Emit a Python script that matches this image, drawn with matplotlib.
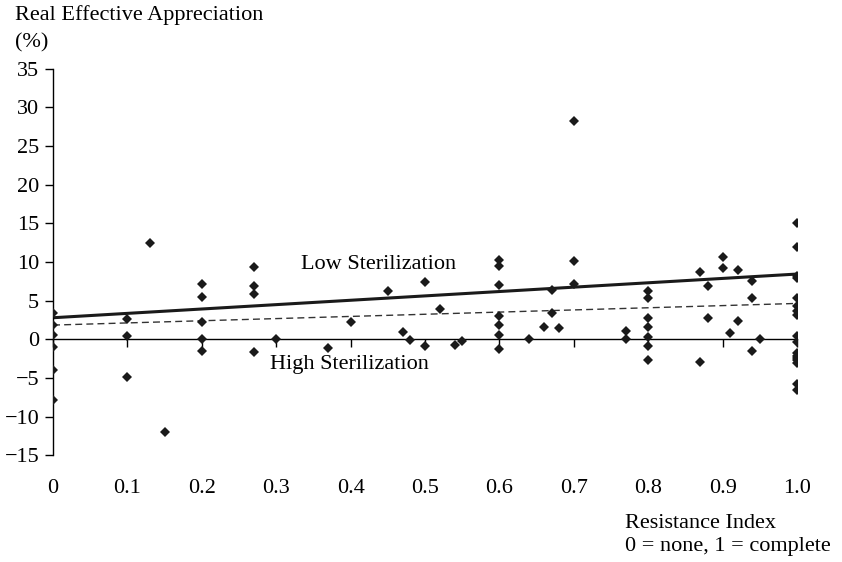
import matplotlib
matplotlib.use("Agg")
import matplotlib.pyplot as plt
import numpy as np

plt.rcParams['font.family'] = ['Liberation Serif', 'DejaVu Serif']

# resistance index and real effective appreciation (%)
resistance = [
    0, 0, 0, 0, 0, 0,
    0.1, 0.1, 0.1,
    0.13, 0.15,
    0.2, 0.2, 0.2, 0.2, 0.2,
    0.27, 0.27, 0.27, 0.27,
    0.3, 0.37, 0.4, 0.45, 0.47, 0.48, 0.5, 0.5, 0.52, 0.54, 0.55,
    0.6, 0.6, 0.6, 0.6, 0.6, 0.6, 0.6,
    0.64, 0.66, 0.67, 0.67, 0.68,
    0.7, 0.7, 0.7,
    0.77, 0.77,
    0.8, 0.8, 0.8, 0.8, 0.8, 0.8, 0.8,
    0.87, 0.87, 0.88, 0.88, 0.9, 0.9, 0.91, 0.92, 0.92,
    0.94, 0.94, 0.94, 0.95,
    1.0, 1.0, 1.0, 1.0, 1.0, 1.0, 1.0, 1.0, 1.0, 1.0,
    1.0, 1.0, 1.0, 1.0, 1.0, 1.0, 1.0,
]
appreciation = [
    3.4, 1.9, 0.6, -1.0, -3.9, -7.8,
    2.7, 0.5, -4.8,
    12.5, -12.0,
    7.1, 5.5, 2.2, 0.0, -1.5,
    9.3, 6.9, 5.9, -1.6,
    0.0, -1.1, 2.3, 6.3, 1.0, -0.1, 7.4, -0.9, 3.9, -0.7, -0.2,
    10.3, 9.5, 7.0, 3.0, 1.9, 0.6, -1.2,
    0.0, 1.6, 6.4, 3.4, 1.5,
    28.3, 10.1, 7.1,
    1.1, 0.1,
    6.2, 5.3, 2.8, 1.6, 0.3, -0.8, -2.7,
    8.7, -2.9, 6.9, 2.8, 10.6, 9.2, 0.8, 9.0, 2.4,
    7.5, 5.3, -1.5, 0.0,
    15.1, 12.0, 8.2, 7.9, 5.4, 4.3, 3.7, 3.1, 0.4, -0.4,
    -1.8, -2.1, -2.4, -2.7, -3.0, -5.8, -6.6,
]

# fitted trend lines: intercept, slope
low_fit = [2.8, 5.65]
high_fit = [1.85, 2.8]

xticks = [0, 0.1, 0.2, 0.3, 0.4, 0.5, 0.6, 0.7, 0.8, 0.9, 1.0]
xtick_labels = ['0', '0.1', '0.2', '0.3', '0.4', '0.5', '0.6', '0.7', '0.8', '0.9', '1.0']
yticks = [-15, -10, -5, 0, 5, 10, 15, 20, 25, 30, 35]
ytick_labels = ['\u221215', '\u221210', '\u22125', '0', '5', '10', '15', '20', '25', '30', '35']

FS = 16

fig = plt.figure(figsize=(8.42, 5.62), dpi=100)
ax = fig.add_axes([0.063, 0.1897, 0.8836, 0.688])

xs = np.array([0.0, 1.0])
ax.plot(xs, low_fit[0] + low_fit[1] * xs, color='#1a1a1a', lw=2.2, zorder=2)
ax.plot(xs, high_fit[0] + high_fit[1] * xs, color='#333333', lw=1.0,
        dashes=(5, 3), zorder=2)
ax.plot(resistance, appreciation, 'D', color='#1a1a1a', ms=5.2, mew=0, zorder=3)

ax.set_xlim(0, 1.0)
ax.set_ylim(-15, 35)
ax.spines['top'].set_visible(False)
ax.spines['right'].set_visible(False)
ax.spines['bottom'].set_position(('data', 0))
ax.spines['bottom'].set_linewidth(1.0)
ax.spines['left'].set_linewidth(1.0)

ax.set_yticks(yticks)
ax.set_yticklabels(ytick_labels)
ax.set_xticks(xticks)
ax.tick_params(axis='x', direction='out', length=6, width=1.0, labelbottom=False)
ax.tick_params(axis='y', direction='out', length=6, width=1.0, labelsize=FS, pad=4)

for xv, lab in zip(xticks, xtick_labels):
    ax.text(xv, -0.085, lab, transform=ax.get_xaxis_transform(),
            ha='center', va='center', fontsize=FS)

ax.text(0.437, 9.7, 'Low Sterilization', ha='center', va='center', fontsize=FS)
ax.text(0.399, -3.3, 'High Sterilization', ha='center', va='center', fontsize=FS)

fig.text(15 / 842, 1 - 15 / 562, 'Real Effective Appreciation', ha='left', va='center', fontsize=FS)
fig.text(15 / 842, 1 - 43 / 562, '(%)', ha='left', va='center', fontsize=FS)
fig.text(625 / 842, 1 - 524 / 562, 'Resistance Index', ha='left', va='center', fontsize=FS)
fig.text(625 / 842, 1 - 546 / 562, '0 = none, 1 = complete', ha='left', va='center', fontsize=FS)

fig.savefig('out.png', dpi=100)
